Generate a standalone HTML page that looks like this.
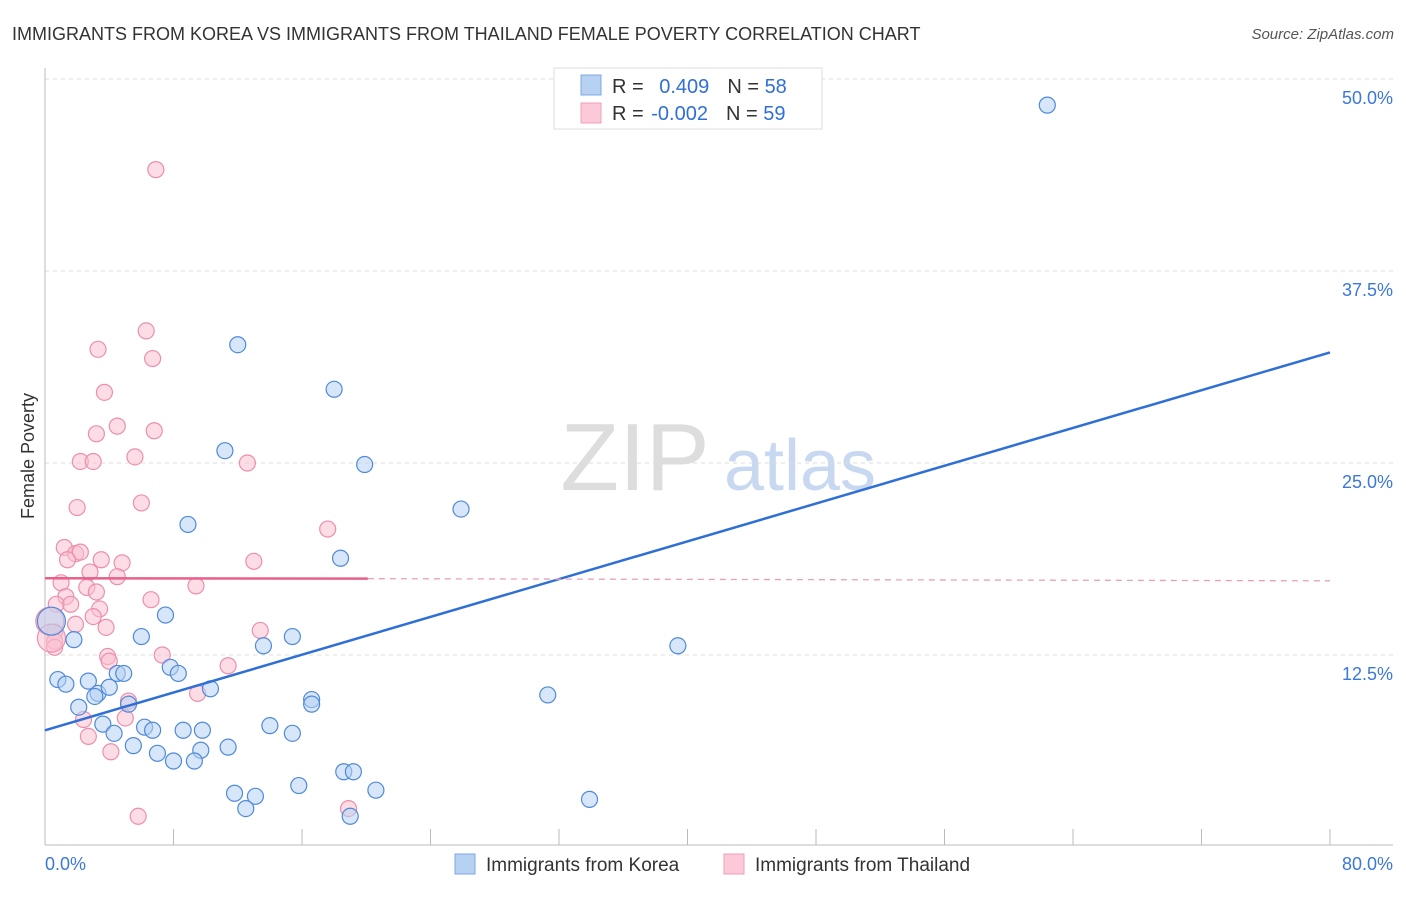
<!DOCTYPE html>
<html><head><meta charset="utf-8"><style>
body{margin:0;background:#fff;font-family:"Liberation Sans",sans-serif}
svg text{font-family:"Liberation Sans",sans-serif}
</style></head><body>
<svg id="c" width="1406" height="892" viewBox="0 0 1406 892">
<text x="12" y="40" font-size="18" fill="#333">IMMIGRANTS FROM KOREA VS IMMIGRANTS FROM THAILAND FEMALE POVERTY CORRELATION CHART</text>
<text x="1394" y="39" font-size="15" fill="#555" font-style="italic" text-anchor="end">Source: ZipAtlas.com</text>
<text x="34" y="456" font-size="18" fill="#333" text-anchor="middle" transform="rotate(-90 34 456)">Female Poverty</text>
<g>
<text x="635" y="490" font-size="96" font-family="Liberation Serif,serif" fill="#ddd" text-anchor="middle">ZIP</text>
<text x="800" y="490" font-size="72" fill="#c8d8f0" text-anchor="middle">atlas</text>
</g>
<g id="grid"></g><g id="axes"></g><g id="pts"></g><g id="lines"></g>
<g>
<rect x="554" y="68" width="268" height="61" fill="#fff" stroke="#ddd"/>
<rect x="581" y="75" width="20" height="20" fill="#b7d1f3" stroke="#7fa8e0"/>
<rect x="581" y="103" width="20" height="20" fill="#fcc9d8" stroke="#f0a0b8"/>
<text x="612" y="93" font-size="20" fill="#333">R = <tspan fill="#2f6fd6" dx="10">0.409</tspan><tspan dx="18" fill="#333">N = </tspan><tspan fill="#2f6fd6">58</tspan></text>
<text x="612" y="120" font-size="20" fill="#333">R = <tspan fill="#2f6fd6" dx="2">-0.002</tspan><tspan dx="18" fill="#333">N = </tspan><tspan fill="#2f6fd6">59</tspan></text>
</g>
<g>
<rect x="455" y="854" width="20" height="20" fill="#b7d1f3" stroke="#7fa8e0"/>
<text x="486" y="871" font-size="19" fill="#333">Immigrants from Korea</text>
<rect x="724" y="854" width="20" height="20" fill="#fcc9d8" stroke="#f0a0b8"/>
<text x="755" y="871" font-size="19" fill="#333">Immigrants from Thailand</text>
</g>
</svg>
<script>
const yTicks=[12.5,25,37.5,50];
const yTickLabels=["12.5%","25.0%","37.5%","50.0%"];
const xTickLabels=["0.0%","80.0%"];
const koreaX=[62.4,12.0,18.0,11.2,19.9,25.9,8.9,18.4,7.5,6.0,15.4,13.6,1.8,39.4,0.8,1.3,2.7,4.5,4.9,7.8,8.3,3.3,4.0,3.1,10.3,31.3,16.6,16.6,2.1,5.2,3.6,4.3,6.2,6.7,8.6,9.8,14.0,15.4,5.5,7.0,9.7,11.4,8.0,9.3,18.6,19.2,15.8,11.8,13.1,20.6,33.9,12.5,19.0,0.4];
const koreaY=[48.3,32.7,29.8,25.8,24.9,22.0,21.0,18.8,15.1,13.7,13.7,13.1,13.5,13.1,10.9,10.6,10.8,11.3,11.3,11.7,11.3,10.0,10.4,9.8,10.3,9.9,9.6,9.3,9.1,9.3,8.0,7.4,7.8,7.6,7.6,7.6,7.9,7.4,6.6,6.1,6.3,6.5,5.6,5.6,4.9,4.9,4.0,3.5,3.3,3.7,3.1,2.5,2.0,14.7];
const thaiX=[6.9,6.3,3.3,6.7,3.7,4.5,3.2,6.8,2.2,3.0,5.6,12.6,6.0,2.0,17.6,1.2,1.9,2.2,1.4,3.5,4.8,13.0,2.8,4.5,1.0,2.6,9.4,1.3,3.2,6.6,0.7,1.6,3.4,3.0,1.9,3.8,13.4,0.6,0.6,0.6,3.9,7.3,4.0,11.4,5.2,9.5,5.0,2.4,2.7,4.1,5.8,18.9,0.3,0.4];
const thaiY=[44.1,33.6,32.4,31.8,29.6,27.4,26.9,27.1,25.1,25.1,25.4,25.0,22.4,22.1,20.7,19.5,19.1,19.2,18.7,18.7,18.5,18.6,17.9,17.6,17.2,16.9,17.0,16.3,16.6,16.1,15.8,15.8,15.5,15.0,14.5,14.3,14.1,14.0,13.4,13.0,12.4,12.5,12.1,11.8,9.5,10.0,8.4,8.3,7.2,6.2,2.0,2.5,14.7,13.6];
const X=v=>45+v/80*1285, Y=v=>847-v/12.5*192;
const NS="http://www.w3.org/2000/svg";
function mk(t,a,p){const e=document.createElementNS(NS,t);for(const k in a)e.setAttribute(k,a[k]);p.appendChild(e);return e;}
const grid=document.getElementById('grid'),axes=document.getElementById('axes'),pts=document.getElementById('pts'),lines=document.getElementById('lines');
yTicks.forEach((t,i)=>{
 const l=mk('line',{x1:45,x2:1393,y1:Y(t),y2:Y(t),stroke:'#ddd','stroke-dasharray':'4,4'},grid);
 
 
 const tx=mk('text',{x:1393,y:Y(t)+25,'font-size':18,fill:'#3b78d8','text-anchor':'end'},axes);
 tx.textContent=yTickLabels[i];
 
 
});
const ax=mk('line',{x1:45,x2:45,y1:68,y2:845,stroke:'#bbb'},axes);


const bx=mk('line',{x1:45,x2:1393,y1:845,y2:845,stroke:'#bbb'},axes);


for(let i=0;i<=10;i++){const t=mk('line',{x1:X(i*8),x2:X(i*8),y1:829,y2:845,stroke:'#bbb'},axes);
 
 }
[[0,'start',45],[80,'end',1393]].forEach((d,i)=>{const t=mk('text',{x:d[2],y:870,'font-size':18,fill:'#3b78d8','text-anchor':d[1]},axes);t.textContent=xTickLabels[i];
 
 });
function dots(xs,ys,fill,stroke,name){xs.forEach((x,i)=>{const big=(x<0.5);const c=mk('circle',{cx:X(x),cy:Y(ys[i]),r:big?14:8,fill:fill,'fill-opacity':0.55,stroke:stroke,'stroke-width':1.2},pts);
 
 });}
dots(thaiX,thaiY,'#f9bfd0','#ec8fac','thailand-point');
dots(koreaX,koreaY,'#b7d1f3','#4f8ad9','korea-point');
const bl=mk('line',{x1:X(0),y1:Y(7.6),x2:X(80),y2:Y(32.2),stroke:'#2f6fd6','stroke-width':2.5},lines);


const pl=mk('line',{x1:X(0),y1:Y(17.5),x2:X(20.1),y2:Y(17.47),stroke:'#e8608a','stroke-width':2.5},lines);


const pd=mk('line',{x1:X(20.1),y1:Y(17.47),x2:X(80),y2:Y(17.33),stroke:'#e8a0b8','stroke-width':1.3,'stroke-dasharray':'6,5'},lines);


</script>
</body></html>
